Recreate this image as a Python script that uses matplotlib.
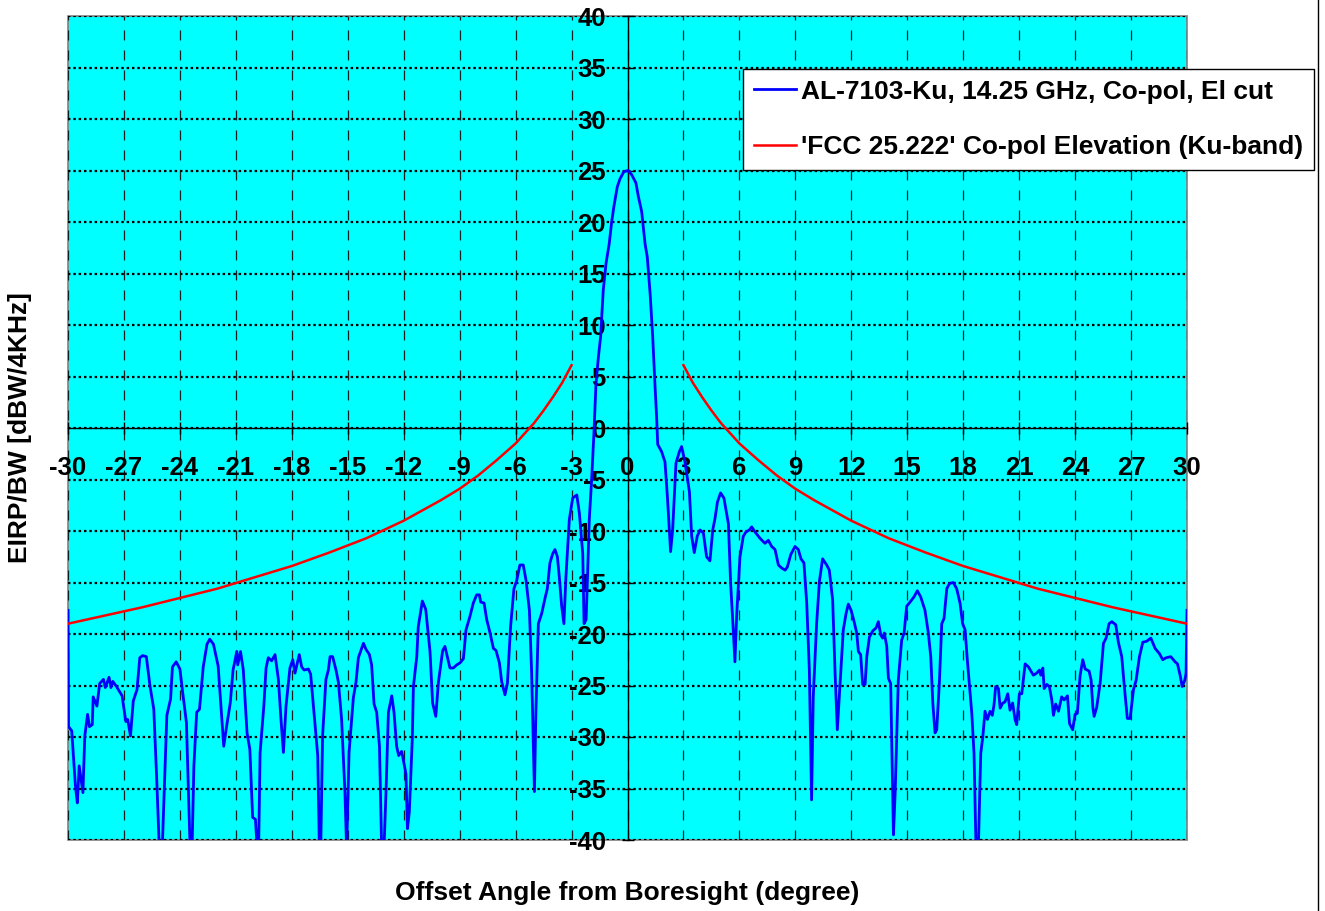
import numpy as np
import matplotlib
matplotlib.use("Agg")
import matplotlib.pyplot as plt
from matplotlib.lines import Line2D
from matplotlib.patches import Rectangle

plt.rcParams['font.family'] = ['Liberation Sans', 'DejaVu Sans']
plt.rcParams['font.weight'] = 'bold'
plt.rcParams['axes.unicode_minus'] = False

blue_angle = [
    -30.0, -29.97, -29.8, -29.6, -29.5, -29.4, -29.2, -29.1, -28.95, -28.85,
    -28.7, -28.65, -28.45, -28.3, -28.1, -28.0, -27.8, -27.7, -27.6, -27.4,
    -27.1, -26.9, -26.8, -26.65, -26.5, -26.3, -26.15, -26.0, -25.8, -25.6,
    -25.4, -25.25, -25.1, -24.95, -24.7, -24.5, -24.4, -24.2, -24.0, -23.85,
    -23.65, -23.45, -23.35, -23.25, -23.1, -22.95, -22.75, -22.55, -22.4, -22.2,
    -21.95, -21.8, -21.65, -21.5, -21.3, -21.15, -20.95, -20.9, -20.75, -20.6,
    -20.4, -20.25, -20.1, -19.95, -19.85, -19.78, -19.7, -19.5, -19.38, -19.26,
    -19.08, -18.9, -18.72, -18.58, -18.45, -18.31, -18.1, -17.95, -17.83, -17.6,
    -17.47, -17.34, -17.11, -16.99, -16.79, -16.61, -16.52, -16.45, -16.35, -16.17,
    -16.04, -15.95, -15.81, -15.63, -15.5, -15.33, -15.15, -15.06, -14.93, -14.7,
    -14.56, -14.43, -14.16, -14.02, -13.84, -13.72, -13.59, -13.45, -13.3, -13.18,
    -13.06, -12.95, -12.82, -12.64, -12.52, -12.38, -12.27, -12.11, -11.98, -11.88,
    -11.8, -11.7, -11.54, -11.48, -11.3, -11.22, -11.0, -10.82, -10.59, -10.45,
    -10.28, -10.14, -9.91, -9.79, -9.66, -9.52, -9.34, -9.16, -8.98, -8.8,
    -8.66, -8.45, -8.27, -8.09, -7.94, -7.87, -7.69, -7.55, -7.37, -7.19,
    -7.05, -6.87, -6.75, -6.57, -6.44, -6.27, -6.09, -5.94, -5.77, -5.59,
    -5.44, -5.26, -5.14, -4.99, -4.91, -4.78, -4.6, -4.42, -4.3, -4.16,
    -4.01, -3.89, -3.76, -3.66, -3.53, -3.41, -3.3, -3.12, -2.94, -2.72,
    -2.58, -2.4, -2.33, -2.22, -2.15, -2.05, -1.92, -1.8, -1.69, -1.56,
    -1.44, -1.3, -1.15, -0.98, -0.85, -0.73, -0.55, -0.4, -0.19, 0.04,
    0.22, 0.45, 0.58, 0.76, 0.94, 1.06, 1.21, 1.35, 1.47, 1.56,
    1.62, 1.83, 2.01, 2.14, 2.31, 2.42, 2.6, 2.78, 2.9, 3.08,
    3.32, 3.44, 3.58, 3.74, 3.89, 4.07, 4.24, 4.42, 4.57, 4.69,
    4.82, 4.99, 5.17, 5.41, 5.53, 5.67, 5.76, 5.85, 6.03, 6.21,
    6.35, 6.53, 6.66, 6.84, 7.1, 7.37, 7.55, 7.73, 7.91, 8.09,
    8.27, 8.45, 8.57, 8.75, 8.98, 9.16, 9.3, 9.46, 9.61, 9.75,
    9.87, 9.96, 10.14, 10.29, 10.46, 10.68, 10.82, 11.0, 11.13, 11.25,
    11.4, 11.57, 11.72, 11.84, 11.99, 12.15, 12.29, 12.38, 12.5, 12.61,
    12.74, 12.83, 12.97, 13.15, 13.33, 13.45, 13.58, 13.68, 13.77, 13.9,
    13.99, 14.11, 14.2, 14.26, 14.35, 14.52, 14.7, 14.83, 14.97, 15.15,
    15.36, 15.54, 15.72, 15.95, 16.13, 16.26, 16.37, 16.49, 16.58, 16.72,
    16.85, 16.97, 17.12, 17.26, 17.47, 17.65, 17.83, 17.97, 18.1, 18.22,
    18.46, 18.58, 18.69, 18.81, 18.94, 19.05, 19.17, 19.3, 19.44, 19.56,
    19.65, 19.74, 19.89, 19.98, 20.12, 20.24, 20.39, 20.51, 20.65, 20.78,
    20.87, 21.01, 21.14, 21.32, 21.5, 21.76, 21.94, 22.09, 22.16, 22.27,
    22.34, 22.48, 22.62, 22.75, 22.84, 22.96, 23.11, 23.28, 23.41, 23.59,
    23.7, 23.87, 24.0, 24.12, 24.27, 24.41, 24.54, 24.75, 24.86, 24.95,
    25.02, 25.16, 25.34, 25.52, 25.66, 25.82, 25.97, 26.18, 26.32, 26.5,
    26.64, 26.8, 26.95, 27.13, 27.27, 27.45, 27.63, 27.84, 28.06, 28.29,
    28.52, 28.7, 28.88, 29.13, 29.36, 29.49, 29.63, 29.74, 29.88, 29.95,
    30.0,
]
blue_eirp = [
    -17.7, -29.0, -29.4, -34.8, -36.4, -32.8, -35.4, -29.9, -27.8, -29.0,
    -28.8, -26.1, -27.0, -24.8, -24.4, -25.2, -24.2, -25.2, -24.6, -25.1,
    -26.0, -28.5, -28.3, -29.9, -26.5, -25.4, -22.3, -22.1, -22.2, -25.1,
    -27.3, -33.8, -41.0, -41.0, -27.9, -26.3, -23.2, -22.7, -23.4, -25.7,
    -28.6, -41.0, -41.0, -32.8, -27.6, -27.3, -23.2, -21.0, -20.5, -21.0,
    -23.1, -27.0, -30.9, -29.0, -26.7, -23.5, -21.7, -23.0, -21.7, -23.5,
    -29.6, -31.2, -37.8, -38.0, -41.0, -41.0, -31.5, -27.0, -23.3, -22.3,
    -22.6, -22.0, -24.4, -28.3, -31.5, -27.0, -23.3, -22.5, -23.8, -22.0,
    -23.2, -23.5, -23.4, -23.9, -28.0, -31.8, -41.0, -41.0, -29.9, -24.4,
    -23.5, -22.2, -22.2, -23.5, -24.7, -28.3, -35.4, -41.0, -31.5, -26.2,
    -24.7, -22.3, -20.9, -21.5, -22.0, -23.0, -26.8, -27.6, -30.9, -41.0,
    -41.0, -35.4, -27.6, -26.0, -27.6, -30.9, -31.8, -31.4, -32.6, -33.6,
    -38.9, -37.3, -30.2, -25.1, -22.2, -19.3, -16.8, -17.6, -21.7, -26.7,
    -28.0, -24.7, -21.6, -21.2, -22.2, -23.3, -23.3, -23.0, -22.8, -22.4,
    -19.6, -18.3, -17.0, -16.2, -16.2, -16.9, -17.0, -18.6, -19.9, -21.4,
    -21.6, -22.8, -24.6, -25.9, -24.8, -19.3, -15.6, -14.8, -13.3, -13.3,
    -14.8, -17.7, -23.8, -35.3, -27.4, -19.0, -18.0, -16.5, -15.6, -13.1,
    -12.2, -11.8, -12.5, -14.4, -17.3, -19.0, -14.4, -8.9, -6.8, -6.5,
    -8.3, -12.2, -19.0, -18.6, -14.8, -8.9, -4.9, -0.5, 4.3, 6.9,
    8.9, 13.4, 16.0, 17.9, 20.0, 21.5, 23.4, 24.2, 24.9, 25.0,
    24.6, 23.8, 22.5, 21.0, 17.9, 16.6, 13.1, 8.9, 4.3, 1.1,
    -1.6, -2.3, -3.3, -6.7, -12.0, -9.9, -3.4, -2.3, -1.8, -3.3,
    -6.2, -10.5, -12.1, -10.5, -9.9, -10.2, -12.5, -12.9, -9.9, -8.8,
    -7.2, -6.3, -6.8, -9.3, -15.1, -19.6, -22.7, -18.3, -12.5, -10.5,
    -10.1, -9.9, -9.6, -10.1, -10.7, -11.2, -10.9, -11.5, -11.8, -13.3,
    -13.6, -13.8, -13.5, -12.3, -11.5, -11.8, -12.7, -13.1, -17.0, -23.5,
    -36.1, -26.1, -19.0, -14.9, -12.7, -13.3, -13.8, -16.7, -23.8, -29.3,
    -24.8, -19.6, -18.0, -17.1, -17.7, -18.8, -19.9, -21.7, -22.0, -24.9,
    -24.9, -22.2, -20.3, -19.7, -19.4, -18.8, -20.1, -20.4, -19.9, -21.2,
    -24.3, -24.8, -33.5, -39.5, -35.5, -24.5, -20.6, -19.9, -17.3, -16.9,
    -16.4, -15.8, -16.4, -17.7, -19.9, -22.2, -26.7, -29.6, -29.3, -24.8,
    -19.0, -18.5, -15.6, -15.1, -15.0, -15.6, -17.0, -19.0, -19.6, -22.5,
    -27.7, -31.6, -41.0, -41.0, -31.6, -30.0, -27.5, -28.3, -27.5, -27.9,
    -26.9, -25.1, -25.3, -27.2, -26.7, -26.6, -25.8, -27.4, -26.7, -28.3,
    -28.8, -25.8, -25.8, -22.9, -23.2, -24.0, -23.8, -23.5, -24.0, -23.3,
    -25.3, -24.9, -25.1, -26.4, -27.9, -26.8, -27.5, -26.1, -26.4, -26.0,
    -28.7, -29.3, -27.8, -27.7, -24.0, -22.5, -23.4, -23.6, -24.5, -27.1,
    -28.0, -27.1, -24.8, -20.9, -20.4, -19.0, -18.8, -19.1, -20.8, -22.2,
    -25.1, -28.2, -28.2, -25.4, -24.5, -22.2, -20.8, -20.7, -20.4, -21.4,
    -21.9, -22.5, -22.3, -22.2, -22.7, -22.9, -24.0, -25.1, -24.5, -23.8,
    -17.7,
]

# FCC 25.222 elevation mask, one side (deg, dBW/4kHz); mirrored for negative angles
mask_angle = [3, 3.5, 4, 4.5, 5, 5.5, 6, 7, 8, 9, 10, 12, 14, 16, 18, 20, 22, 24, 26, 28, 30]
mask_eirp = [6.1, 4.4, 3.0, 1.7, 0.5, -0.5, -1.5, -3.1, -4.6, -5.9, -7.0, -9.0,
             -10.7, -12.1, -13.4, -14.5, -15.6, -16.5, -17.4, -18.2, -19.0]

x_ticks = np.arange(-30, 31, 3)
y_ticks = np.arange(-40, 41, 5)

label_blue = "AL-7103-Ku, 14.25 GHz, Co-pol, El cut"
label_red = "'FCC 25.222' Co-pol Elevation (Ku-band)"

W, H = 1325, 911
fig = plt.figure(figsize=(W / 100, H / 100), dpi=100)
ax = fig.add_axes([68 / W, 1 - 840 / H, (1187 - 68) / W, 824 / H])
ax.set_facecolor('#00FFFF')
ax.set_xlim(-30, 30)
ax.set_ylim(-40, 40)
ax.set_xticks(x_ticks)
ax.set_yticks(y_ticks)

# grid: dotted horizontal, dashed vertical
ax.grid(axis='y', color='black', lw=1.6, ls=(0, (1.1, 1.3)))
ax.grid(axis='x', color='#102020', lw=0.9, ls=(0, (8, 8)))

# axes through the origin
for side in ['top', 'right']:
    ax.spines[side].set_visible(False)
ax.spines['left'].set_position(('data', 0))
ax.spines['bottom'].set_position(('data', 0))
ax.spines['left'].set_linewidth(1.0)
ax.spines['bottom'].set_linewidth(1.0)
ax.add_patch(Rectangle((0, 0), 1, 1, transform=ax.transAxes, fill=False,
                       edgecolor='#808080', lw=1.2, clip_on=False, zorder=1))

ax.tick_params(axis='both', direction='inout', length=9, width=1, labelsize=18.5)
ax.tick_params(axis='x', pad=16)
ax.tick_params(axis='y', pad=11)
for lab in ax.get_xticklabels() + ax.get_yticklabels():
    lab.set_fontweight('bold')

ax.plot(blue_angle, blue_eirp, color='#0000FF', lw=2.0, label=label_blue, zorder=3)
ax.plot(mask_angle, mask_eirp, color='#FF0000', lw=1.8, label=label_red, zorder=3)
ax.plot([-a for a in mask_angle], mask_eirp, color='#FF0000', lw=1.8, zorder=3)

leg = ax.legend(loc='upper left', bbox_to_anchor=(743 / W, 1 - 69 / H),
                bbox_transform=fig.transFigure, fontsize=19, frameon=True,
                fancybox=False, framealpha=1, edgecolor='black',
                handlelength=1.6, handletextpad=0.2, labelspacing=1.2,
                borderpad=0.4, borderaxespad=0)
leg.get_frame().set_linewidth(1.0)
for t in leg.get_texts():
    t.set_fontweight('bold')
leg.set_zorder(5)

fig.text(627 / W, 1 - 893 / H, "Offset Angle from Boresight (degree)",
         ha='center', va='center', fontsize=19, fontweight='bold')
fig.text(20 / W, 1 - 428 / H, "EIRP/BW [dBW/4KHz]", rotation=90,
         ha='center', va='center', fontsize=19, fontweight='bold')

fig.add_artist(Line2D([1318 / W, 1318 / W], [0, 1], color='black', lw=1.0))

fig.savefig('out.png', dpi=100, facecolor='white')
